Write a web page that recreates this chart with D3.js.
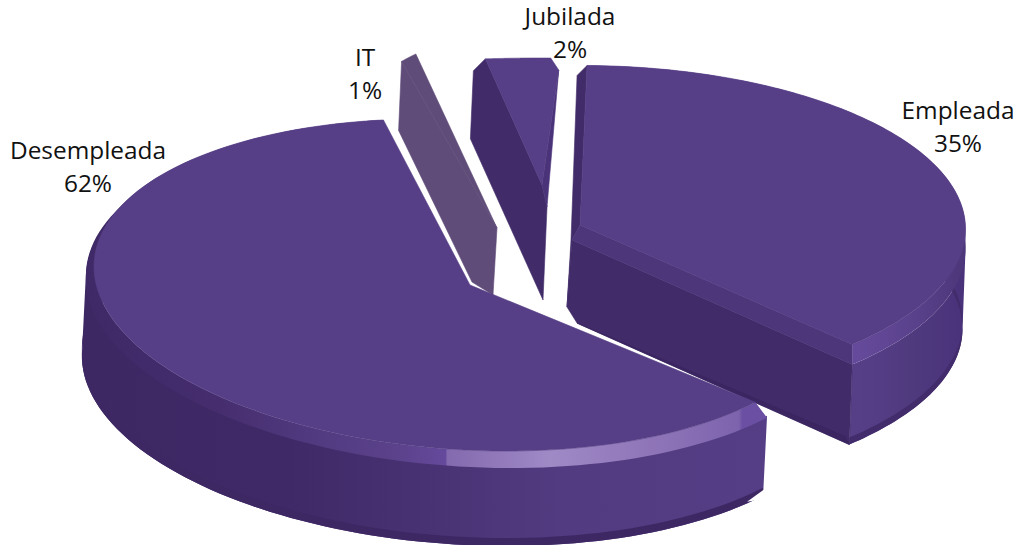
<!DOCTYPE html>
<html><head><meta charset="utf-8">
<script src="https://cdn.jsdelivr.net/npm/d3@7"></script>
<style>html,body{margin:0;padding:0;background:#fff}svg{display:block}text{font-family:"Open Sans",sans-serif;font-size:24.4px;fill:#111;text-anchor:middle}</style>
</head><body><svg id="c" width="1016" height="545"></svg>
<script>
const categories = ["Empleada","Desempleada","IT","Jubilada"];
const values = [35,62,1,2];
const labelsText = ["35%","62%","1%","2%"];

const deg = Math.PI/180;
const views = {
  Empleada:   {ax:580,ay:225,cx:580,cy:237,rx:385,ry:163,p:-.05,k:0,from:1,to:133,r2:1,dx2:0,dy2:20,h:80,wx:-3},
  Desempleada:{ax:470,ay:285,cx:465,cy:285,rx:371,ry:165,p:0,k:.05,from:128.5,to:347.3,r2:1.03,dx2:3,dy2:12,h:78,wx:-4},
  IT:         {ax:497,ay:228,cx:497,cy:228,rx:192,ry:192,p:0,k:0,from:-29.8,to:-25,r2:1,dx2:0,dy2:0,h:0,wx:0},
  Jubilada:   {ax:542,ay:185,cx:542,cy:185,rx:500,ry:127,p:0,k:0,from:-6.5,to:1,r2:1,dx2:0,dy2:0,h:0,wx:0}
};
const labelPos = {Empleada:[958,119],Desempleada:[88,159],IT:[365,66],Jubilada:[570,25]};

const svg = d3.select("#c");
const defs = svg.append("defs");
function grad(id,x1,x2,stops){
  const g=defs.append("linearGradient").attr("id",id).attr("gradientUnits","userSpaceOnUse")
    .attr("x1",x1).attr("x2",x2).attr("y1",0).attr("y2",0);
  stops.forEach(s=>g.append("stop").attr("offset",s[0]).attr("stop-color",s[1]));
}
grad("dWall",80,770,[[0,"#3e2864"],[.3,"#3f2966"],[.5,"#493273"],[.7,"#523b80"],[1,"#553e85"]]);
grad("dBevel",80,770,[[0,"#3f2966"],[.2,"#452d6e"],[.35,"#533b82"],[.45,"#5a4189"],[.53,"#65499c"],[.532,"#8369ae"],[.68,"#a08ac6"],[.85,"#8c72b6"],[.955,"#7d63ad"],[.96,"#6a4fa2"],[1,"#6a4fa2"]]);
grad("eWall",857,965,[[0,"#573f88"],[.5,"#503a7e"],[1,"#49327a"]]);
grad("eBevel",857,965,[[0,"#654a9b"],[.5,"#5b428d"],[1,"#4d3679"]]);

const pie = d3.pie().sort(null).value(d=>d.value).startAngle(0).endAngle(2*Math.PI);
const arcs = pie(categories.map((c,i)=>({name:c,value:values[i]})));

function proj(v,a,r,dx,dy){
  const u=Math.sin(a)*r, t=-Math.cos(a)*r;
  const w=1/(1-v.p*t);
  return [v.cx+v.rx*u*w+(dx||0), v.cy+v.ry*t*w+v.k*v.rx*u*w+(dy||0)];
}
const line=d3.line();
const poly=pts=>line(pts)+"Z";

function sliceTools(d){
  const v=views[d.data.name];
  const angle=d3.scaleLinear().domain([d.startAngle,d.endAngle]).range([v.from*deg,v.to*deg]);
  const samples=d3.range(0,121).map(i=>d.startAngle+(d.endAngle-d.startAngle)*i/120);
  const curve=(r,dx,dy)=>samples.map(s=>proj(v,angle(s),r,dx,dy));
  return {v,curve,S:p=>proj(v,angle(d.startAngle),1,p&&p[0],p&&p[1]),E:p=>proj(v,angle(d.endAngle),1,p&&p[0],p&&p[1]),A:[v.ax,v.ay]};
}
const add=(p,o)=>[p[0]+o[0],p[1]+o[1]];
function path(dstr,fill){svg.append("path").attr("d",dstr).attr("fill",fill).attr("stroke",fill).attr("stroke-width",.6).attr("stroke-linejoin","round");}
// one path of equally wound quads, so the swept surface has no seams
function sweep(a,b,fill){
  let dstr="";
  for(let i=0;i<a.length-1;i++){
    const q=[a[i],a[i+1],b[i+1],b[i]];
    if(d3.polygonArea(q)<0)q.reverse();
    dstr+=poly(q);
  }
  svg.append("path").attr("d",dstr).attr("fill",fill).attr("fill-rule","nonzero");
}

const byName=Object.fromEntries(arcs.map(a=>[a.data.name,a]));

// Jubilada
(function(){
  const t=sliceTools(byName.Jubilada), c=t.curve(1), A=t.A, S=t.S(), E=t.E();
  path(poly([S,add(S,[-12,12]),add(S,[-15,80]),add(A,[1,115]),add(A,[5,22]),A]),"#412b68");
  path(poly([A,add(E,[8,12]),add(A,[5,22])]),"#4a3378");
  path(poly([A].concat(c,[add(E,[8,12])])),"#573f87");
})();
// IT
(function(){
  const t=sliceTools(byName.IT), c=t.curve(1), A=t.A, S=t.S();
  path(poly([S,add(S,[-3,69]),add(A,[-25,54]),add(A,[-4,67]),A]),"#5f4c78");
  path(poly([A].concat(c)),"#5f4c78");
})();
// Empleada
(function(){
  const t=sliceTools(byName.Empleada), v=t.v, A=t.A, E=t.E(), S=t.S();
  const e2=t.curve(v.r2,v.dx2,v.dy2), e3=t.curve(v.r2,v.dx2+v.wx,v.dy2+v.h), e3r=t.curve(v.r2,v.dx2+v.wx,v.dy2+v.h-7);
  sweep(e2,e3,"url(#eWall)");
  sweep(e3r,e3,"#432c6b");
  const E2=e2[e2.length-1],E3=e3[e3.length-1];
  path(poly([add(A,[-8,15]),E2,E3,add(A,[-3,98]),add(A,[-13,82])]),"#412b68");
  path(poly([add(A,[-3,98]),add(E3,[-4,-8]),E3,add(A,[1,100])]),"#3b2661");
  path(poly([S,A,add(A,[-8,15]),add(A,[-13,82]),add(A,[-9,15]),add(S,[-10,10])]),"#412b68");
  path(poly([A,E,E2,add(A,[-8,15])]),"#4d367a");
  sweep(t.curve(1),e2,"url(#eBevel)");
  path(poly([A].concat(t.curve(1))),"#573f87");
})();
// Desempleada
(function(){
  const t=sliceTools(byName.Desempleada), v=t.v, A=t.A;
  const e2=t.curve(v.r2,v.dx2,v.dy2), e3=t.curve(v.r2,v.dx2+v.wx,v.dy2+v.h), e3r=t.curve(v.r2,v.dx2+v.wx,v.dy2+v.h-8);
  // the wall starts a little above the bevel edge so no seam shows between them
  sweep(t.curve(v.r2,v.dx2,v.dy2-2),e3,"url(#dWall)");
  sweep(e3r,e3,"#3e2864");
  sweep(t.curve(1),e2,"url(#dBevel)");
  path(poly([A].concat(t.curve(1))),"#573f87");
  const E3=e3[0];
  svg.append("path").attr("d",poly([add(E3,[2,-7]),add(E3,[3,3]),add(E3,[-16,6])])).attr("fill","#fff");
})();

// labels
categories.forEach((c,i)=>{
  const p=labelPos[c];
  const g=svg.append("text").attr("x",p[0]).attr("y",p[1]);
  g.append("tspan").attr("x",p[0]).text(c);
  g.append("tspan").attr("x",p[0]).attr("dy",33).text(labelsText[i]);
});
</script></body></html>
